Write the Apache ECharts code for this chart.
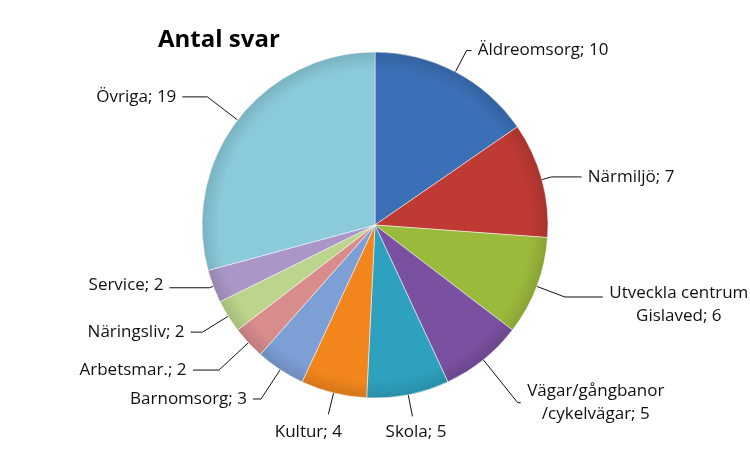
<!DOCTYPE html>
<html><head><meta charset="utf-8">
<script src="https://cdn.jsdelivr.net/npm/echarts@6/dist/echarts.min.js"></script>
<style>html,body{margin:0;padding:0;background:#fff}#c{width:750px;height:450px}</style>
</head><body><div id="c"></div>
<script>
const categories = ['Äldreomsorg','Närmiljö','Utveckla centrum\nGislaved','Vägar/gångbanor\n/cykelvägar','Skola','Kultur','Barnomsorg','Arbetsmar.','Näringsliv','Service','Övriga'];
const values = [10,7,6,5,5,4,3,2,2,2,19];
const colors = ['#3b6fb6','#be3a33','#9aba3c','#7a50a0','#2ea1be','#f2861d','#7c9fd5','#d98c8c','#bcd48b','#aa97c8','#8bcadb'];
// leader line legs and label nudges per slice (style only)
const leg1 = [24,10,30,55,22,22,35,40,30,4,38];
const leg2 = [5,30,38,3,0,0,8,26,12,40,25];
const nudgeX = [0,0,0,0,-33,20,0,0,0,0,0];
const nudgeY = [0,0,8,0,16,18,0,0,0,-3,0];

const FONT = '17px "Open Sans"';
const cv = document.createElement('canvas').getContext('2d');
cv.font = FONT;
function textW(s){return Math.max(...s.split('\n').map(l=>cv.measureText(l).width));}

function darker(c,k){
  const a = echarts.color.parse(c);
  return 'rgb('+Math.round(a[0]*k)+','+Math.round(a[1]*k)+','+Math.round(a[2]*k)+')';
}
const CX=375, CY=225, R=173;
function shade(c){
  return {type:'radial',x:CX,y:CY,r:R,global:true,colorStops:[
    {offset:0,color:c},{offset:0.9,color:c},
    {offset:1,color:darker(c,0.88)}]};
}
const data = categories.map((n,i)=>{
  const full = n+'; '+values[i];
  const w = Math.ceil(textW(full))+2;
  return {name:n,value:values[i],
    itemStyle:{color:shade(colors[i])},
    label:{formatter:full.split('\n').map(l=>'{c|'+l+'}').join('\n'),
      rich:{c:{width:w,align:'center',fontFamily:'Open Sans',fontSize:17,color:'#111',lineHeight:23}}},
    labelLine:{length:leg1[i],length2:leg2[i]}};
});
const chart = echarts.init(document.getElementById('c'),null,{renderer:'canvas'});
chart.setOption({
  animation:false,
  title:{text:'Antal svar',left:153,top:23,textStyle:{fontFamily:'Open Sans',fontSize:24,fontWeight:'bold',color:'#000'}},
  series:[{
    type:'pie',
    left:0,top:0,right:-100,bottom:-50,
    center:[CX,CY],
    radius:R,
    startAngle:90,
    clockwise:true,
    avoidLabelOverlap:false,
    data:data,
    itemStyle:{borderColor:'rgba(255,255,255,0.5)',borderWidth:1},
    label:{fontFamily:'Open Sans',fontSize:17,color:'#111',lineHeight:23},
    labelLine:{lineStyle:{color:'#111',width:1}},
    labelLayout:p=>({dx:nudgeX[p.dataIndex],dy:nudgeY[p.dataIndex]})
  }]
});
</script></body></html>
